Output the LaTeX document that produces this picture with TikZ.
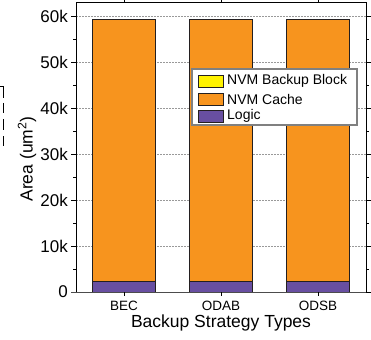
\documentclass[tikz,border=0pt]{standalone}
\usepackage{fontspec}
\setmainfont{Liberation Sans}
\definecolor{cachecol}{RGB}{247,148,30}
\definecolor{logiccol}{RGB}{104,79,161}
\definecolor{backupcol}{RGB}{255,242,0}
\definecolor{edgecol}{RGB}{35,31,32}
\begin{document}
\begin{tikzpicture}[x=1pt,y=-1pt,
  gridline/.style={draw=gray!80, dash pattern=on 2pt off 1pt, line width=0.6pt},
  axisline/.style={draw=black, line width=0.8pt},
  tickline/.style={draw=black, line width=0.7pt},
  barbox/.style={draw=edgecol, line width=0.9pt},
  ticklabel/.style={font=\fontsize{17}{19}\selectfont, inner sep=0pt},
  catlabel/.style={font=\fontsize{13.5}{15}\selectfont, inner sep=0pt},
  titlelabel/.style={font=\fontsize{17.5}{20}\selectfont, inner sep=0pt},
  legendtext/.style={font=\fontsize{14}{16}\selectfont, inner sep=0pt, anchor=west},
  swatch/.style={draw=edgecol, line width=0.9pt}]
\useasboundingbox (0,0) rectangle (371,339);

% horizontal grid at the major levels
\foreach \v in {1,...,6}
  \draw[gridline] (76,{292-46*\v}) -- (366,{292-46*\v});

% stacked bars: logic at the bottom, NVM cache above
\foreach \c in {124,221,318} {
  \draw[barbox, fill=cachecol] ({\c-31.5},19.2) rectangle ({\c+31.5},281);
  \draw[barbox, fill=logiccol] ({\c-31.5},281) rectangle ({\c+31.5},292);
}

% frame
\draw[axisline] (76,292) -- (76,2) -- (366,2) -- (366,292);
\draw[draw=black!70, line width=1pt] (71,292) -- (366,292);

% major and minor ticks on both vertical axes
\foreach \v in {1,...,6} {
  \draw[tickline] (71,{292-46*\v}) -- (76,{292-46*\v});
  \draw[tickline] (366,{292-46*\v}) -- (371,{292-46*\v});
}
\foreach \v in {0,...,5} {
  \draw[tickline] (73,{269-46*\v}) -- (76,{269-46*\v});
  \draw[tickline] (366,{269-46*\v}) -- (369,{269-46*\v});
}
\draw[tickline] (366,292) -- (371,292);
% category ticks
\foreach \c in {124,221,318} {
  \draw[tickline] (\c,292) -- (\c,296);
  \draw[tickline] (\c,2) -- (\c,0);
}

% vertical axis labels
\node[ticklabel, anchor=east] (t0)  at (68,292) {0};
\node[ticklabel, anchor=east] (t10) at (68,246) {10k};
\node[ticklabel, anchor=east] (t20) at (68,200) {20k};
\node[ticklabel, anchor=east] (t30) at (68,154) {30k};
\node[ticklabel, anchor=east] (t40) at (68,108) {40k};
\node[ticklabel, anchor=east] (t50) at (68,62)  {50k};
\node[ticklabel, anchor=east] (t60) at (68,16)  {60k};

% category labels
\node[catlabel, anchor=base] (cBEC)  at (124,310.5) {BEC};
\node[catlabel, anchor=base] (cODAB) at (221,310.5) {ODAB};
\node[catlabel, anchor=base] (cODSB) at (318,310.5) {ODSB};

% axis titles
\node[titlelabel, anchor=base] (xtitle) at (221,327) {Backup Strategy Types};
\node[titlelabel, rotate=90] (ytitle) at (27,159) {Area (um\textsuperscript{2})};

% legend
\draw[draw=gray, line width=1.2pt, fill=white] (192,69) rectangle (357,125);
\draw[swatch, fill=backupcol] (198,75) rectangle (223,87);
\draw[swatch, fill=cachecol]  (198,93) rectangle (223,105);
\draw[swatch, fill=logiccol]  (198,110) rectangle (223,122);
\node[legendtext] (lb) at (227,81)  {NVM Backup Block};
\node[legendtext] (lc) at (227,99)  {NVM Cache};
\node[legendtext] (ll) at (227,116) {Logic};

% dashed bracket at the left edge
\draw[black, line width=1pt] (0,87) -- (3.5,87) -- (3.5,98);
\draw[black, line width=1pt, dash pattern=on 10pt off 6.5pt] (3.5,103) -- (3.5,151);
\end{tikzpicture}
\end{document}
